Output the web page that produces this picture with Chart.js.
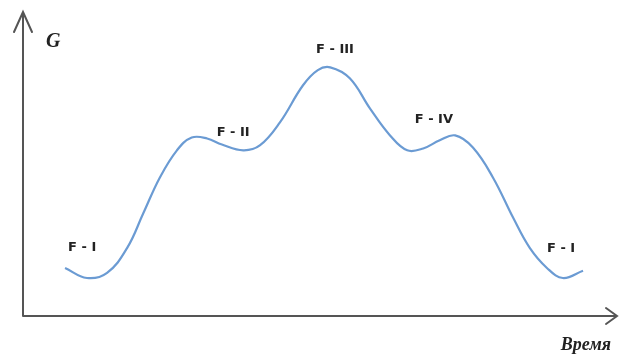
<!DOCTYPE html>
<html>
<head>
<meta charset="utf-8">
<script src="https://cdn.jsdelivr.net/npm/chart.js@4"></script>
<style>
  html, body { margin: 0; padding: 0; background: #fff; }
  #wrap { width: 621px; height: 359px; position: relative; }
</style>
</head>
<body>
<div id="wrap"><canvas id="energyChart" width="621" height="359"></canvas></div>
<script>
// Free energy profile: G over time, phases F-I .. F-IV.
const TIME = [7.1, 10.8, 14.2, 17.6, 20.3, 23.1, 26.0, 28.5, 31.1, 33.6, 37.2, 40.0, 43.4, 47.3, 49.8, 51.9,
  55.2, 58.6, 62.0, 64.9, 67.6, 70.4, 73.0, 76.0, 79.4, 82.8, 85.6, 88.5, 91.2, 94.6];
const G_VALUES = [15.8, 12.5, 14.2, 22.4, 33.7, 45.5, 54.5, 58.7, 58.4, 56.4, 54.5, 56.1, 63.7, 75.9, 80.9, 81.8,
  78.2, 68.3, 59.4, 54.5, 55.1, 57.8, 59.4, 55.4, 45.5, 32.3, 22.4, 15.8, 12.5, 14.9];

const PHASE_NAMES = ['F - I', 'F - II', 'F - III', 'F - IV', 'F - I'];
const PHASE_X = [10.0, 35.5, 52.7, 69.4, 90.9];
const PHASE_Y = [22.4, 60.4, 87.5, 64.7, 22.1];

const AXIS_Y_TITLE = 'G';
const AXIS_X_TITLE = 'Время';

const LINE = '#6b9bd3';
const AXIS = '#555';

const axesPlugin = {
  id: 'arrowAxes',
  afterDraw: function (chart) {
    const ctx = chart.ctx;
    const a = chart.chartArea;
    ctx.save();
    ctx.strokeStyle = AXIS;
    ctx.lineWidth = 2;
    ctx.lineCap = 'round';
    ctx.beginPath();
    // y axis with open arrowhead
    ctx.moveTo(a.left, a.bottom);
    ctx.lineTo(a.left, a.top);
    ctx.moveTo(a.left - 9, a.top + 20);
    ctx.lineTo(a.left, a.top);
    ctx.lineTo(a.left + 9, a.top + 20);
    // x axis
    ctx.moveTo(a.left, a.bottom);
    ctx.lineTo(a.right + 2, a.bottom);
    ctx.moveTo(a.right - 9, a.bottom - 8);
    ctx.lineTo(a.right + 2, a.bottom);
    ctx.lineTo(a.right - 9, a.bottom + 8);
    ctx.stroke();

    ctx.fillStyle = '#222';
    ctx.font = 'italic bold 20px "Liberation Serif", "DejaVu Serif", serif';
    ctx.textBaseline = 'alphabetic';
    ctx.textAlign = 'left';
    ctx.fillText(AXIS_Y_TITLE, a.left + 23, a.top + 35);
    ctx.font = 'italic bold 18px "Liberation Serif", "DejaVu Serif", serif';
    ctx.textAlign = 'right';
    ctx.fillText(AXIS_X_TITLE, a.right - 4, a.bottom + 34);

    const xs = chart.scales.x, ys = chart.scales.y;
    ctx.font = 'bold 13px "DejaVu Sans", sans-serif';
    ctx.textAlign = 'center';
    ctx.textBaseline = 'middle';
    PHASE_NAMES.forEach(function (name, i) {
      ctx.fillText(name, xs.getPixelForValue(PHASE_X[i]), ys.getPixelForValue(PHASE_Y[i]));
    });
    ctx.restore();
  }
};

new Chart(document.getElementById('energyChart'), {
  type: 'line',
  data: {
    datasets: [{
      data: TIME.map(function (t, i) { return { x: t, y: G_VALUES[i] }; }),
      borderColor: LINE,
      borderWidth: 2.2,
      pointRadius: 0,
      tension: 0.4,
      fill: false,
    }],
  },
  options: {
    responsive: false,
    animation: false,
    devicePixelRatio: 1,
    layout: { padding: { left: 23, top: 12, right: 6, bottom: 43 } },
    plugins: { legend: { display: false }, tooltip: { enabled: false } },
    scales: {
      x: { type: 'linear', min: 0, max: 100, display: false },
      y: { min: 0, max: 100, display: false },
    },
  },
  plugins: [axesPlugin],
});
</script>
</body>
</html>
